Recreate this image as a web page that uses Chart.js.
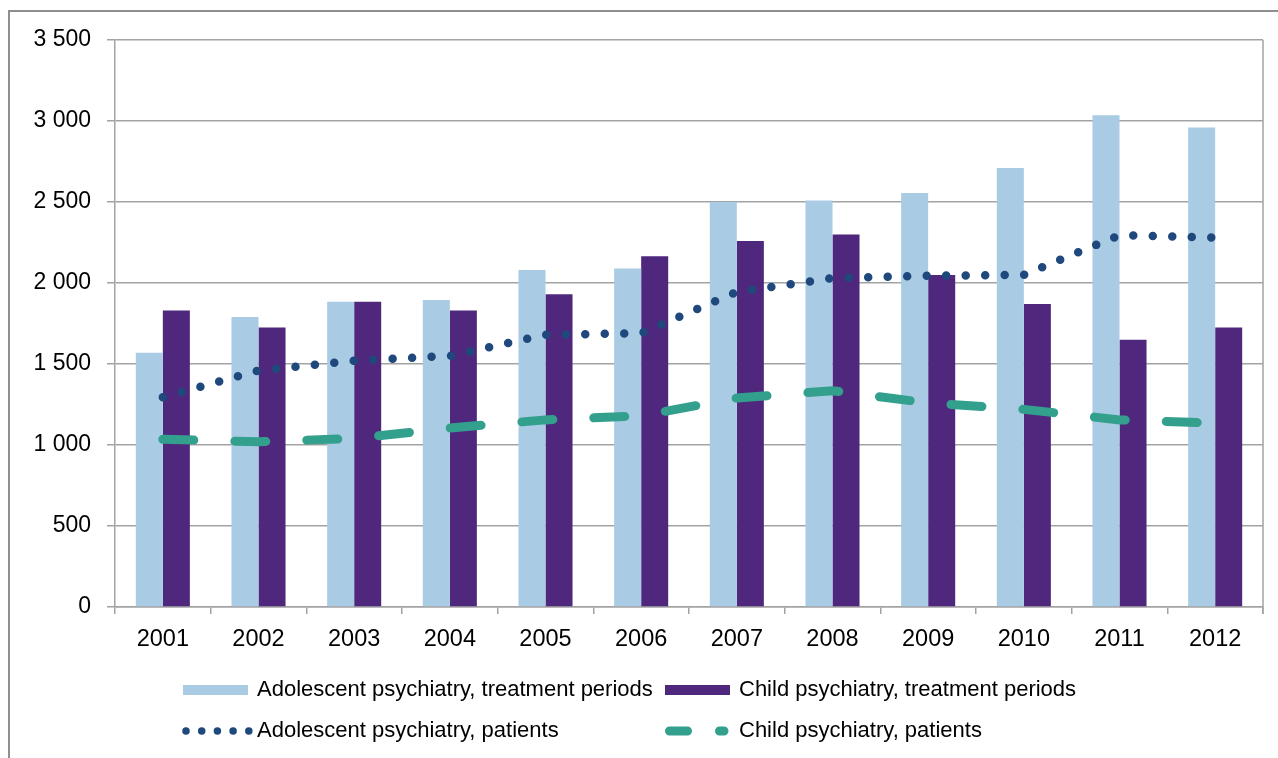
<!DOCTYPE html>
<html>
<head>
<meta charset="utf-8">
<script src="https://cdn.jsdelivr.net/npm/chart.js@4.4.1/dist/chart.umd.min.js"></script>
<style>
  html, body { margin: 0; padding: 0; background: #fff; }
  #wrap { position: relative; width: 1278px; height: 758px; overflow: hidden; }
  #frame { position: absolute; left: 8px; top: 10px; right: -10px; bottom: -10px;
           border-left: 2px solid #8f8f8f; border-top: 2px solid #8f8f8f; }
  canvas { position: absolute; left: 0; top: 0; }
</style>
</head>
<body>
<div id="wrap">
  <div id="frame"></div>
  <canvas id="psyChart" width="1278" height="758"></canvas>
</div>
<script>
const years = ['2001', '2002', '2003', '2004', '2005', '2006', '2007', '2008', '2009', '2010', '2011', '2012'];

// treatment periods (bars)
const adolescentPeriods = [1570, 1790, 1885, 1895, 2080, 2090, 2500, 2510, 2555, 2710, 3035, 2960];
const childPeriods = [1830, 1725, 1885, 1830, 1930, 2165, 2260, 2300, 2050, 1870, 1650, 1725];

// patients (lines)
const adolescentPatients = [1295, 1460, 1520, 1550, 1680, 1690, 1945, 2030, 2045, 2050, 2295, 2280];
const childPatients = [1035, 1020, 1040, 1105, 1155, 1180, 1290, 1335, 1260, 1220, 1155, 1135];

const yMin = 0;
const yMax = 3500;
const yStep = 500;

const FONT = '"Liberation Sans", Arial, sans-serif';
const GRID = '#a3a3a3';

function spaced(v) {
  return String(v).replace(/\B(?=(\d{3})+(?!\d))/g, '\u00a0');
}

// legend in two columns under the x axis
const legendStyles = [
  { kind: 'box' },
  { kind: 'box' },
  { kind: 'line', width: 7.5, dash: [0, 15.7], from: 3, to: 66 },
  { kind: 'line', width: 9, dash: [18, 32], from: 4.5, to: 59 }
];

const legendBelow = {
  id: 'legendBelow',
  afterDraw(chart) {
    const { ctx, chartArea } = chart;
    const cols = [chartArea.left + 68, chartArea.left + 550];
    const rows = [chartArea.bottom + 83, chartArea.bottom + 124];
    chart.data.datasets.forEach((ds, i) => {
      const st = legendStyles[i];
      const x = cols[i % 2];
      const y = rows[Math.floor(i / 2)];
      ctx.save();
      if (st.kind === 'box') {
        ctx.fillStyle = ds.backgroundColor;
        ctx.fillRect(x, y - 5, 65, 10);
      } else {
        ctx.strokeStyle = ds.borderColor;
        ctx.lineWidth = st.width;
        ctx.lineCap = 'round';
        ctx.setLineDash(st.dash);
        ctx.beginPath();
        ctx.moveTo(x + st.from, y);
        ctx.lineTo(x + st.to, y);
        ctx.stroke();
      }
      ctx.setLineDash([]);
      ctx.fillStyle = '#000';
      ctx.font = '22px ' + FONT;
      ctx.textBaseline = 'middle';
      ctx.textAlign = 'left';
      ctx.fillText(ds.label, x + 74, y);
      ctx.restore();
    });
  }
};

// right edge of the plot area
const plotEdge = {
  id: 'plotEdge',
  beforeDatasetsDraw(chart) {
    const { ctx, chartArea } = chart;
    ctx.save();
    ctx.strokeStyle = GRID;
    ctx.lineWidth = 1.5;
    ctx.beginPath();
    ctx.moveTo(chartArea.right, chartArea.top);
    ctx.lineTo(chartArea.right, chartArea.bottom + 7);
    ctx.stroke();
    ctx.restore();
  }
};

const config = {
  data: {
    labels: years,
    datasets: [
      {
        type: 'bar',
        label: 'Adolescent psychiatry, treatment periods',
        data: adolescentPeriods,
        backgroundColor: '#a9cce4',
        order: 1
      },
      {
        type: 'bar',
        label: 'Child psychiatry, treatment periods',
        data: childPeriods,
        backgroundColor: '#4f287d',
        order: 1
      },
      {
        type: 'line',
        label: 'Adolescent psychiatry, patients',
        data: adolescentPatients,
        borderColor: '#1f497d',
        borderWidth: 8.5,
        borderDash: [0, 19.5],
        borderCapStyle: 'round',
        pointRadius: 0,
        tension: 0,
        order: 0
      },
      {
        type: 'line',
        label: 'Child psychiatry, patients',
        data: childPatients,
        borderColor: '#33a08e',
        borderWidth: 9,
        borderDash: [31, 41],
        borderCapStyle: 'round',
        pointRadius: 0,
        tension: 0,
        order: 0
      }
    ]
  },
  options: {
    responsive: false,
    animation: false,
    devicePixelRatio: 1,
    layout: { padding: { left: 0, top: 40, right: 15, bottom: 106 } },
    datasets: {
      bar: { categoryPercentage: 0.565, barPercentage: 1 }
    },
    plugins: {
      legend: { display: false },
      tooltip: { enabled: false },
      title: { display: false }
    },
    scales: {
      x: {
        offset: true,
        grid: {
          offset: true,
          drawOnChartArea: false,
          drawTicks: true,
          tickLength: 7,
          color: GRID,
          lineWidth: 1.5
        },
        border: { color: GRID, width: 1.5 },
        ticks: {
          color: '#000',
          padding: 11,
          maxRotation: 0,
          font: { family: FONT, size: 23.5 }
        },
        afterFit(scale) { scale.height = 45; }
      },
      y: {
        min: yMin,
        max: yMax,
        grid: { color: GRID, lineWidth: 1.5, tickLength: 8 },
        border: { color: GRID, width: 1.5 },
        ticks: {
          stepSize: yStep,
          color: '#000',
          padding: 16,
          font: { family: FONT, size: 23 },
          callback: v => spaced(v)
        },
        afterFit(scale) { scale.width = 115; }
      }
    }
  },
  plugins: [plotEdge, legendBelow]
};

const psyChart = new Chart(document.getElementById('psyChart'), config);
</script>
</body>
</html>
